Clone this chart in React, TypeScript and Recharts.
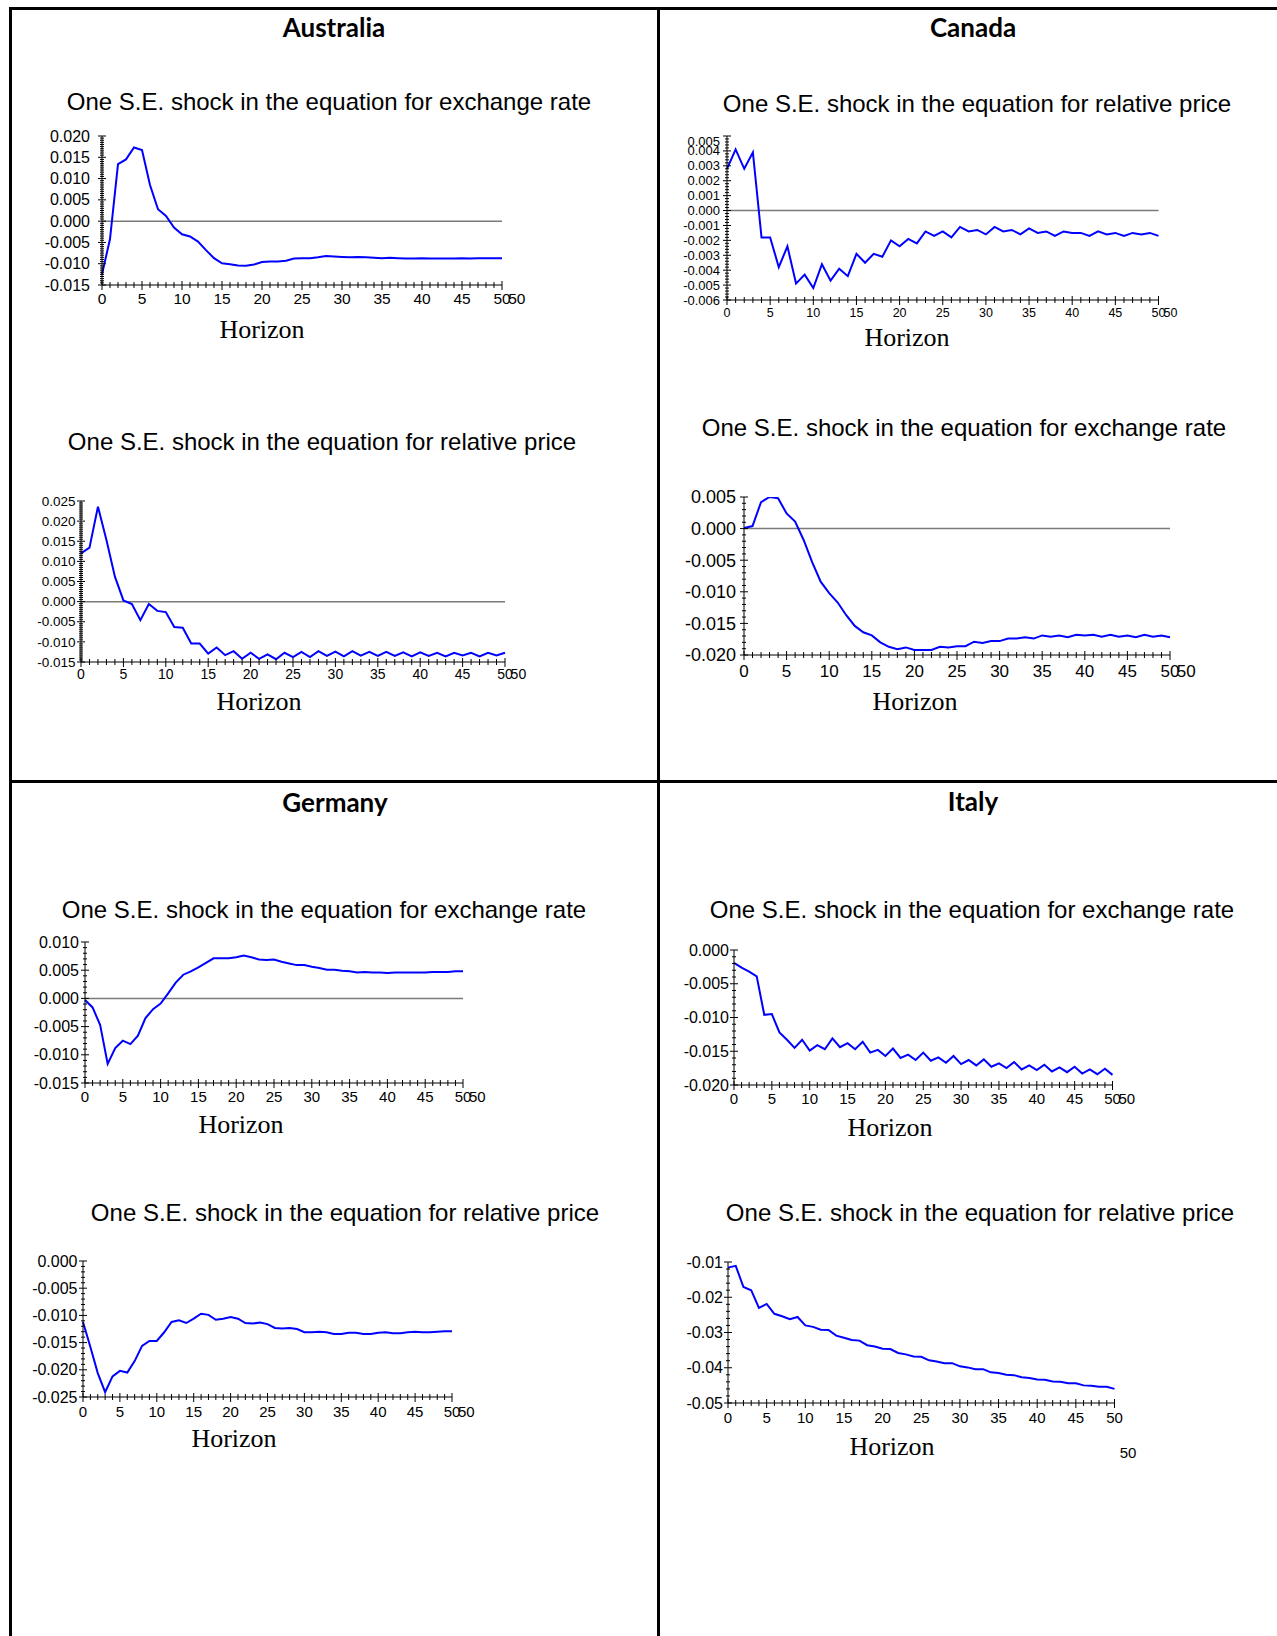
import { Line, LineChart, ReferenceLine, XAxis, YAxis } from 'recharts'

// impulse horizon (periods after the shock)
const horizon = [
  0, 1, 2, 3, 4, 5, 6, 7, 8, 9, 10, 11, 12, 13, 14, 15, 16, 17, 18, 19, 20, 21, 22, 23, 24, 25,
  26, 27, 28, 29, 30, 31, 32, 33, 34, 35, 36, 37, 38, 39, 40, 41, 42, 43, 44, 45, 46, 47, 48, 49, 50,
]
const xTickLabels = [0, 5, 10, 15, 20, 25, 30, 35, 40, 45, 50]

// responses
const ausExchange = [
  -0.0125, -0.0042, 0.0134, 0.0145, 0.0173, 0.0167, 0.0085, 0.0028, 0.0012, -0.0015,
  -0.0031, -0.0036, -0.0048, -0.0068, -0.0087, -0.0099, -0.0101, -0.0104, -0.0105, -0.0102,
  -0.0096, -0.0095, -0.0095, -0.0093, -0.0088, -0.0087, -0.0087, -0.0085, -0.0082, -0.0083,
  -0.0084, -0.0085, -0.0084, -0.0085, -0.0086, -0.0087, -0.0086, -0.0087, -0.0088, -0.0088,
  -0.0087, -0.0088, -0.0088, -0.0088, -0.0088, -0.0087, -0.0088, -0.0087, -0.0087, -0.0087, -0.0087,
]
const ausRelPrice = [
  0.012, 0.0134, 0.0236, 0.0153, 0.0062, 0.0003, -0.0006, -0.0046, -0.0006, -0.0023,
  -0.0026, -0.0063, -0.0065, -0.0104, -0.0104, -0.0129, -0.0114, -0.0133, -0.0123, -0.0142,
  -0.0127, -0.0142, -0.0131, -0.0143, -0.0127, -0.0138, -0.0125, -0.0138, -0.0123, -0.0135,
  -0.0124, -0.0136, -0.0123, -0.0134, -0.0125, -0.0135, -0.0125, -0.0135, -0.0126, -0.0136,
  -0.0126, -0.0135, -0.0127, -0.0136, -0.0127, -0.0134, -0.0127, -0.0136, -0.0127, -0.0134, -0.0127,
]
const canRelPrice = [
  0.0028, 0.0041, 0.0028, 0.0039, -0.0018, -0.0018, -0.0038, -0.0024, -0.0049, -0.0043,
  -0.0052, -0.0036, -0.0047, -0.0039, -0.0044, -0.0029, -0.0035, -0.0029, -0.0031, -0.002,
  -0.0024, -0.0019, -0.0022, -0.0014, -0.0017, -0.0014, -0.0018, -0.0011, -0.0014, -0.0013,
  -0.0016, -0.0011, -0.0014, -0.0013, -0.0016, -0.0012, -0.0015, -0.0014, -0.0017, -0.0014,
  -0.0015, -0.0015, -0.0017, -0.0014, -0.0016, -0.0015, -0.0017, -0.0015, -0.0016, -0.0015, -0.0017,
]
const canExchange = [
  0.0001, 0.0004, 0.0042, 0.005, 0.0048, 0.0024, 0.0011, -0.0018, -0.0053, -0.0084,
  -0.0102, -0.0117, -0.0137, -0.0154, -0.0164, -0.0169, -0.018, -0.0187, -0.0191, -0.0188,
  -0.0192, -0.0192, -0.0192, -0.0187, -0.0188, -0.0186, -0.0186, -0.0179, -0.0181, -0.0178,
  -0.0178, -0.0174, -0.0174, -0.0172, -0.0174, -0.0169, -0.0171, -0.0169, -0.0172, -0.0168,
  -0.0169, -0.0168, -0.0171, -0.0168, -0.0171, -0.0169, -0.0172, -0.0168, -0.0171, -0.0169, -0.0172,
]
const gerExchange = [
  -0.0003, -0.0016, -0.0047, -0.0116, -0.0088, -0.0075, -0.0081, -0.0066, -0.0035, -0.0019,
  -0.0009, 0.0009, 0.0028, 0.0042, 0.0048, 0.0055, 0.0063, 0.0071, 0.0071, 0.0071,
  0.0073, 0.0076, 0.0073, 0.0069, 0.0068, 0.0069, 0.0065, 0.0062, 0.0059, 0.0059,
  0.0056, 0.0054, 0.0051, 0.0051, 0.0049, 0.0048, 0.0046, 0.0047, 0.0046, 0.0046,
  0.0045, 0.0046, 0.0046, 0.0046, 0.0046, 0.0046, 0.0047, 0.0047, 0.0047, 0.0048, 0.0048,
]
const gerRelPrice = [
  -0.0112, -0.0158, -0.0206, -0.0241, -0.0212, -0.0202, -0.0205, -0.0184, -0.0156, -0.0147,
  -0.0147, -0.0131, -0.0112, -0.0109, -0.0114, -0.0106, -0.0097, -0.0099, -0.0108, -0.0106,
  -0.0103, -0.0106, -0.0114, -0.0115, -0.0113, -0.0116, -0.0123, -0.0124, -0.0123, -0.0125,
  -0.0131, -0.0131, -0.013, -0.0131, -0.0134, -0.0134, -0.0132, -0.0132, -0.0134, -0.0134,
  -0.0132, -0.0131, -0.0133, -0.0133, -0.0131, -0.013, -0.0131, -0.0131, -0.013, -0.0129, -0.0129,
]
const itaExchange = [
  -0.0019, -0.0026, -0.0032, -0.0039, -0.0096, -0.0095, -0.0122, -0.0133, -0.0145, -0.0133,
  -0.0149, -0.0141, -0.0147, -0.0131, -0.0144, -0.0138, -0.0147, -0.0136, -0.0152, -0.0148,
  -0.0157, -0.0146, -0.016, -0.0155, -0.0163, -0.0152, -0.0164, -0.0159, -0.0167, -0.0157,
  -0.0169, -0.0163, -0.0171, -0.0162, -0.0173, -0.0168, -0.0175, -0.0166, -0.0177, -0.0171,
  -0.0178, -0.017, -0.018, -0.0174, -0.0181, -0.0173, -0.0183, -0.0177, -0.0184, -0.0176, -0.0185,
]
const itaRelPrice = [
  -0.0116, -0.0111, -0.0171, -0.018, -0.023, -0.0219, -0.0247, -0.0254, -0.0262, -0.0256,
  -0.028, -0.0284, -0.0292, -0.0293, -0.0309, -0.0315, -0.0321, -0.0323, -0.0336, -0.034,
  -0.0346, -0.0347, -0.0358, -0.0362, -0.0368, -0.0369, -0.0379, -0.0382, -0.0387, -0.0387,
  -0.0396, -0.0399, -0.0404, -0.0404, -0.0413, -0.0415, -0.042, -0.0421, -0.0427, -0.0429,
  -0.0433, -0.0434, -0.0439, -0.044, -0.0444, -0.0444, -0.045, -0.0451, -0.0454, -0.0454, -0.046,
]

// labelled y ticks
const ausExchangeTicks = [-0.015, -0.01, -0.005, 0, 0.005, 0.01, 0.015, 0.02]
const ausRelPriceTicks = [-0.015, -0.01, -0.005, 0, 0.005, 0.01, 0.015, 0.02, 0.025]
const canRelPriceTicks = [-0.006, -0.005, -0.004, -0.003, -0.002, -0.001, 0, 0.001, 0.002, 0.003, 0.004, 0.005]
const canExchangeTicks = [-0.02, -0.015, -0.01, -0.005, 0, 0.005]
const gerExchangeTicks = [-0.015, -0.01, -0.005, 0, 0.005, 0.01]
const gerRelPriceTicks = [-0.025, -0.02, -0.015, -0.01, -0.005, 0]
const itaExchangeTicks = [-0.02, -0.015, -0.01, -0.005, 0]
const itaRelPriceTicks = [-0.05, -0.04, -0.03, -0.02, -0.01]

const SHOCK_EXCH = 'One S.E. shock in the equation for exchange rate'
const SHOCK_PRICE = 'One S.E. shock in the equation for relative price'

interface Panel {
  values: number[]
  yTicks: number[]
  minor: number
  decimals: number
  left: number
  right: number
  top: number
  bottom: number
  yFont: number
  xFont: number
  yGap: number
  xDy: number
  zero: boolean
  echo50: boolean
  topShift?: number
  title: string
  titleX: number
  titleY: number
  horizonX: number
  horizonY: number
}

const panels: Panel[] = [
  {
    values: ausExchange, yTicks: ausExchangeTicks, minor: 0.0005, decimals: 3,
    left: 102, right: 502, top: 136, bottom: 285, yFont: 16, xFont: 15.5, yGap: 12, xDy: 19,
    zero: true, echo50: true, title: SHOCK_EXCH, titleX: 329, titleY: 102, horizonX: 262, horizonY: 330,
  },
  {
    values: ausRelPrice, yTicks: ausRelPriceTicks, minor: 0.0005, decimals: 3,
    left: 81, right: 505, top: 501, bottom: 662, yFont: 13.5, xFont: 14, yGap: 5.5, xDy: 17,
    zero: true, echo50: true, title: SHOCK_PRICE, titleX: 322, titleY: 442, horizonX: 259, horizonY: 702,
  },
  {
    values: canRelPrice, yTicks: canRelPriceTicks, minor: 0.0002, decimals: 3,
    left: 726.5, right: 1158, top: 136, bottom: 300, yFont: 13, xFont: 12.5, yGap: 7, xDy: 17,
    zero: true, echo50: true, topShift: 5, title: SHOCK_PRICE, titleX: 977, titleY: 104, horizonX: 907, horizonY: 338,
  },
  {
    values: canExchange, yTicks: canExchangeTicks, minor: 0.001, decimals: 3,
    left: 744, right: 1170, top: 497, bottom: 655, yFont: 18, xFont: 17, yGap: 8, xDy: 22,
    zero: true, echo50: true, title: SHOCK_EXCH, titleX: 964, titleY: 428, horizonX: 915, horizonY: 702,
  },
  {
    values: gerExchange, yTicks: gerExchangeTicks, minor: 0.001, decimals: 3,
    left: 85, right: 463, top: 942, bottom: 1083, yFont: 16, xFont: 15, yGap: 6, xDy: 19,
    zero: true, echo50: true, title: SHOCK_EXCH, titleX: 324, titleY: 910, horizonX: 241, horizonY: 1125,
  },
  {
    values: gerRelPrice, yTicks: gerRelPriceTicks, minor: 0.001, decimals: 3,
    left: 83, right: 452, top: 1261, bottom: 1397, yFont: 16, xFont: 15, yGap: 5.5, xDy: 19.5,
    zero: false, echo50: true, title: SHOCK_PRICE, titleX: 345, titleY: 1213, horizonX: 234, horizonY: 1439,
  },
  {
    values: itaExchange, yTicks: itaExchangeTicks, minor: 0.001, decimals: 3,
    left: 733.5, right: 1112, top: 950, bottom: 1085, yFont: 16, xFont: 15, yGap: 5, xDy: 18.5,
    zero: false, echo50: true, title: SHOCK_EXCH, titleX: 972, titleY: 910, horizonX: 890, horizonY: 1128,
  },
  {
    values: itaRelPrice, yTicks: itaRelPriceTicks, minor: 0.002, decimals: 2,
    left: 727.5, right: 1114, top: 1262, bottom: 1403, yFont: 16, xFont: 15, yGap: 5, xDy: 19.5,
    zero: false, echo50: false, title: SHOCK_PRICE, titleX: 980, titleY: 1213, horizonX: 892, horizonY: 1447,
  },
]

const countries = [
  { name: 'Australia', x: 334, y: 27 },
  { name: 'Canada', x: 973, y: 27 },
  { name: 'Germany', x: 335, y: 802 },
  { name: 'Italy', x: 973, y: 801 },
]

const SANS = '"Liberation Sans", Arial, sans-serif'
const SERIF = '"Liberation Serif", "Times New Roman", serif'
const YW = 80
const XH = 40
const MT = 14
const MR = 45

function minorTicks(p: Panel) {
  const lo = p.yTicks[0]
  const hi = p.yTicks[p.yTicks.length - 1]
  const out: number[] = []
  const n = Math.round((hi - lo) / p.minor)
  for (let k = 0; k <= n; k++) out.push(Math.round((lo + k * p.minor) * 1e6) / 1e6)
  return out
}

function YTick(props: any) {
  const { x, y, payload, panel } = props
  const v = payload.value as number
  const major = panel.yTicks.some((t: number) => Math.abs(t - v) < 1e-9)
  const top = panel.yTicks[panel.yTicks.length - 1]
  const shift = panel.topShift && Math.abs(v - top) < 1e-9 ? panel.topShift : 0
  return (
    <g>
      <line x1={x - (major ? 4 : 2)} x2={x + (major ? 4 : 2)} y1={y} y2={y} stroke="#000" strokeWidth={1} />
      {major && (
        <text x={x - panel.yGap} y={y + shift} dy="0.35em" textAnchor="end"
          fontSize={panel.yFont} fontFamily={SANS} fill="#000">
          {v.toFixed(panel.decimals)}
        </text>
      )}
    </g>
  )
}

function XTick(props: any) {
  const { x, y, payload, panel } = props
  const v = payload.value as number
  const major = xTickLabels.includes(v)
  return (
    <g>
      <line x1={x} x2={x} y1={y - (major ? 4 : 3)} y2={y + (major ? 5 : 3)} stroke="#000" strokeWidth={1} />
      {major && (
        <text x={x} y={y + panel.xDy} textAnchor="middle" fontSize={panel.xFont} fontFamily={SANS} fill="#000">
          {v}
        </text>
      )}
      {v === 50 && panel.echo50 && (
        <text x={x + panel.xFont * 0.4} y={y + panel.xDy} textAnchor="start" fontSize={panel.xFont}
          fontFamily={SANS} fill="#000">
          50
        </text>
      )}
    </g>
  )
}

function ResponseChart({ panel }: { panel: Panel }) {
  const data = horizon.map((h, i) => ({ h, v: panel.values[i] }))
  const pw = panel.right - panel.left
  const ph = panel.bottom - panel.top
  const lo = panel.yTicks[0]
  const hi = panel.yTicks[panel.yTicks.length - 1]
  return (
    <div style={{ position: 'absolute', left: panel.left - YW, top: panel.top - MT }}>
      <LineChart width={YW + pw + MR} height={MT + ph + XH} data={data}
        margin={{ top: MT, right: MR, bottom: 0, left: 0 }}>
        <XAxis dataKey="h" type="number" domain={[0, 50]} ticks={horizon} interval={0}
          height={XH} tickSize={0} tickMargin={0} tickLine={false}
          axisLine={{ stroke: '#000', strokeWidth: 1 }}
          tick={(p: any) => <XTick {...p} panel={panel} />} />
        <YAxis type="number" domain={[lo, hi]} allowDataOverflow ticks={minorTicks(panel)} interval={0}
          width={YW} tickSize={0} tickMargin={0} tickLine={false}
          axisLine={{ stroke: '#000', strokeWidth: 1 }}
          tick={(p: any) => <YTick {...p} panel={panel} />} />
        {panel.zero && <ReferenceLine y={0} stroke="#7a7a7a" strokeWidth={1.5} />}
        <Line type="linear" dataKey="v" stroke="#0000ff" strokeWidth={2} dot={false}
          isAnimationActive={false} />
      </LineChart>
    </div>
  )
}

const centered = (x: number, y: number): React.CSSProperties => ({
  position: 'absolute',
  left: x,
  top: y,
  transform: 'translate(-50%, -50%)',
  whiteSpace: 'nowrap',
  lineHeight: 1,
})

export default function App() {
  return (
    <div style={{ position: 'absolute', left: 0, top: 0, width: 1277, height: 1636, background: '#fff', overflow: 'hidden' }}>
      {/* table rules */}
      <div style={{ position: 'absolute', left: 9, top: 7, width: 1268, height: 3, background: '#000' }} />
      <div style={{ position: 'absolute', left: 9, top: 7, width: 3, height: 1629, background: '#000' }} />
      <div style={{ position: 'absolute', left: 657, top: 7, width: 3, height: 1629, background: '#000' }} />
      <div style={{ position: 'absolute', left: 9, top: 780, width: 1268, height: 3, background: '#000' }} />

      {countries.map((c) => (
        <div key={c.name} style={{ ...centered(c.x, c.y), fontFamily: 'Lato, "Open Sans", sans-serif', fontWeight: 700, fontSize: 26 }}>
          {c.name}
        </div>
      ))}

      {panels.map((p, i) => (
        <div key={i}>
          <div style={{ ...centered(p.titleX, p.titleY), fontFamily: SANS, fontSize: 24 }}>{p.title}</div>
          <ResponseChart panel={p} />
          <div style={{ ...centered(p.horizonX, p.horizonY), fontFamily: SERIF, fontSize: 26 }}>Horizon</div>
        </div>
      ))}

      <div style={{ ...centered(1128, 1452), fontFamily: SANS, fontSize: 15 }}>50</div>
    </div>
  )
}
